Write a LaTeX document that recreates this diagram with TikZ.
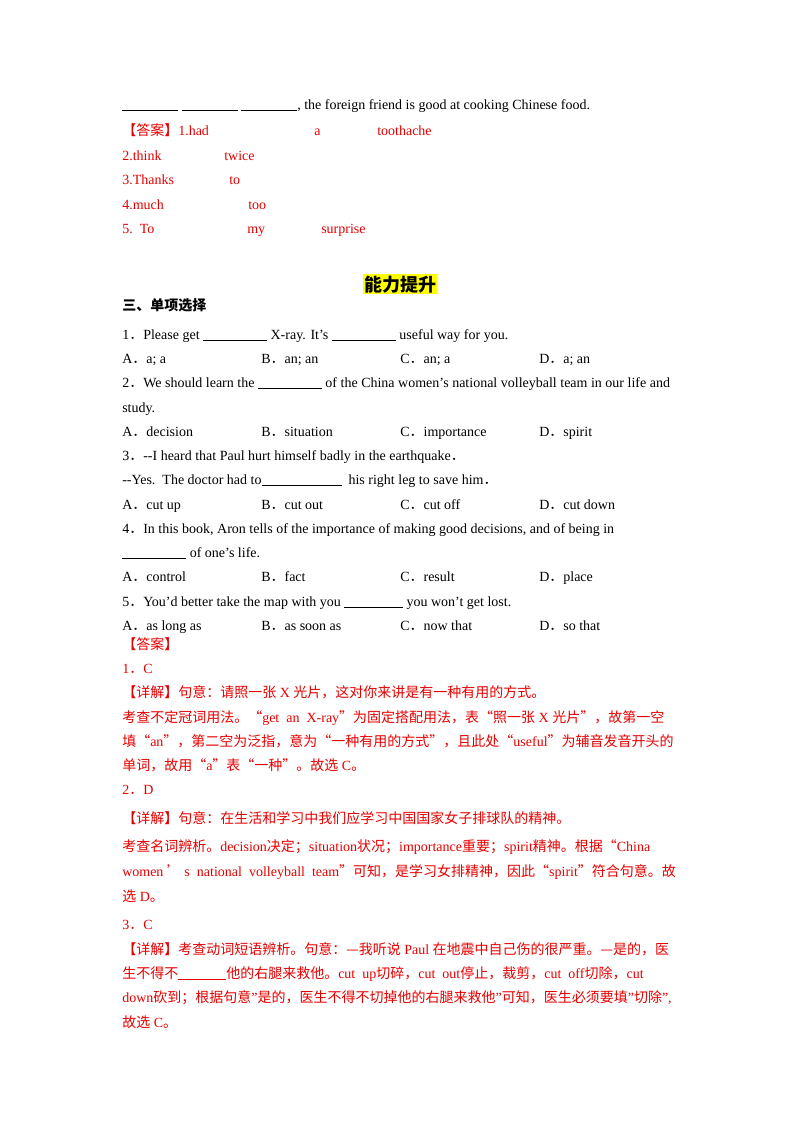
\documentclass[tikz,border=0pt]{standalone}
\usepackage{fontspec}
\setmainfont{Liberation Serif}
\newfontfamily\cjk{Noto Sans CJK SC}
\usepackage{tikz}
\usetikzlibrary{positioning}
\definecolor{ansred}{RGB}{230,0,0}
\definecolor{hiyellow}{RGB}{255,255,0}
\newcommand{\blank}[1]{\rule[-1.5pt]{#1pt}{0.5pt}}
\newcommand{\cn}[1]{{\cjk #1}}
\newcommand{\pt}{\cn{．}}
\tikzset{txt/.style={anchor=base west, inner sep=0pt, font=\fontsize{10.5}{12}\selectfont},
         red txt/.style={txt, text=ansred}}
\begin{document}
\begin{tikzpicture}[x=0.75pt, y=-0.75pt]
\useasboundingbox (0,0) rectangle (800,1132);

% fill-in answers
\node[txt] (s5) at (122,109) {\blank{42} \blank{42} \blank{42}, the foreign friend is good at cooking Chinese food.};
\node[red txt] (a1) at (122,135) {\cn{【答案】}1.had};
\node[red txt] (a1b) at (314,135) {a};
\node[red txt] (a1c) at (377,135) {toothache};
\node[red txt] (a2) at (122,160) {2.think};
\node[red txt] (a2b) at (224,160) {twice};
\node[red txt] (a3) at (122,184) {3.Thanks};
\node[red txt] (a3b) at (229,184) {to};
\node[red txt] (a4) at (122,209) {4.much};
\node[red txt] (a4b) at (248,209) {too};
\node[red txt] (a5) at (122,233) {5.\ \ To};
\node[red txt] (a5b) at (247,233) {my};
\node[red txt] (a5c) at (321,233) {surprise};

% title
\node[anchor=base, inner sep=1pt, fill=hiyellow, font=\fontsize{13.5}{15}\selectfont\cjk\bfseries] (title) at (400,291) {能力提升};
\node[txt, font=\fontsize{10.5}{12}\selectfont\cjk\bfseries] (sec) at (122,310) {三、单项选择};

% questions
\node[txt] (q1) at (122,339) {1\pt Please get \blank{48} X-ray. It’s \blank{48} useful way for you.};
\foreach \t [count=\i] in {a; a, an; an, an; a, a; an}
  \node[txt] (o1-\i) at ({122+139*(\i-1)},363) {\ifcase\i\or A\or B\or C\or D\fi\pt\t};
\node[txt] (q2) at (122,387) {2\pt We should learn the \blank{48} of the China women’s national volleyball team in our life and};
\node[txt] (q2b) at (122,412) {study.};
\foreach \t [count=\i] in {decision, situation, importance, spirit}
  \node[txt] (o2-\i) at ({122+139*(\i-1)},436) {\ifcase\i\or A\or B\or C\or D\fi\pt\t};
\node[txt] (q3) at (122,460) {3\pt -{}-I heard that Paul hurt himself badly in the earthquake\pt};
\node[txt] (q3b) at (122,484) {-{}-Yes.\ \ The doctor had to\blank{60}\ \ his right leg to save him\pt};
\foreach \t [count=\i] in {cut up, cut out, cut off, cut down}
  \node[txt] (o3-\i) at ({122+139*(\i-1)},509) {\ifcase\i\or A\or B\or C\or D\fi\pt\t};
\node[txt] (q4) at (122,533) {4\pt In this book, Aron tells of the importance of making good decisions, and of being in};
\node[txt] (q4b) at (122,557) {\blank{48} of one’s life.};
\foreach \t [count=\i] in {control, fact, result, place}
  \node[txt] (o4-\i) at ({122+139*(\i-1)},581) {\ifcase\i\or A\or B\or C\or D\fi\pt\t};
\node[txt] (q5) at (122,606) {5\pt You’d better take the map with you \blank{44} you won’t get lost.};
\foreach \t [count=\i] in {as long as, as soon as, now that, so that}
  \node[txt] (o5-\i) at ({122+139*(\i-1)},630) {\ifcase\i\or A\or B\or C\or D\fi\pt\t};

% explanations
\node[red txt] (k0) at (122,649) {\cn{【答案】}};
\node[red txt] (k1) at (122,673) {1\pt C};
\node[red txt] (k1a) at (122,697) {\cn{【详解】句意：请照一张} X \cn{光片，这对你来讲是有一种有用的方式。}};
\node[red txt] (k1b) at (122,722) {\cn{考查不定冠词用法。“}get\ \ an\ \ X-ray\cn{”为固定搭配用法，表“照一张} X \cn{光片”，故第一空}};
\node[red txt] (k1c) at (122,746) {\cn{填“}an\cn{”，第二空为泛指，意为“一种有用的方式”，且此处“}useful\cn{”为辅音发音开头的}};
\node[red txt] (k1d) at (122,770) {\cn{单词，故用“}a\cn{”表“一种”。故选} C\cn{。}};
\node[red txt] (k2) at (122,794) {2\pt D};
\node[red txt] (k2a) at (122,823) {\cn{【详解】句意：在生活和学习中我们应学习中国国家女子排球队的精神。}};
\node[red txt] (k2b) at (122,851) {\cn{考查名词辨析。}decision\cn{决定；}situation\cn{状况；}importance\cn{重要；}spirit\cn{精神。根据“}China};
\node[red txt] (k2c) at (122,876) {women\ \cn{’}\ s\ \ national\ \ volleyball\ \ team\cn{”可知，是学习女排精神，因此“}spirit\cn{”符合句意。故}};
\node[red txt] (k2d) at (122,901) {\cn{选} D\cn{。}};
\node[red txt] (k3) at (122,929) {3\pt C};
\node[red txt] (k3a) at (122,954) {\cn{【详解】考查动词短语辨析。句意：—我听说} Paul \cn{在地震中自己伤的很严重。—是的，医}};
\node[red txt] (k3b) at (122,978) {\cn{生不得不}\rule[-1.5pt]{36pt}{0.5pt}\cn{他的右腿来救他。}cut\ \ up\cn{切碎，}cut\ \ out\cn{停止，裁剪，}cut\ \ off\cn{切除，}cut};
\node[red txt] (k3c) at (122,1002) {down\cn{砍到；根据句意}"\cn{是的，医生不得不切掉他的右腿来救他}"\cn{可知，医生必须要填}"\cn{切除}",};
\node[red txt] (k3d) at (122,1027) {\cn{故选} C\cn{。}};
\end{tikzpicture}
\end{document}
